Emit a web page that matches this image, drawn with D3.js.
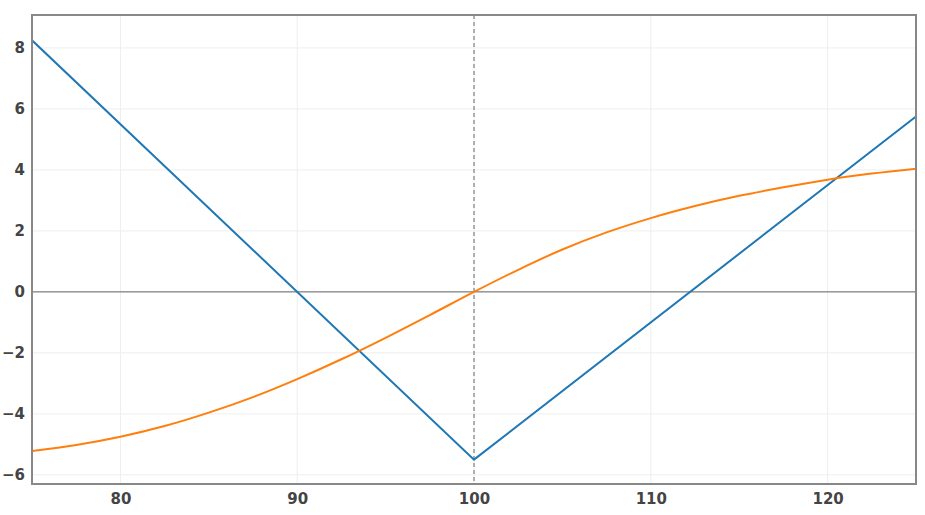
<!DOCTYPE html>
<html><head><meta charset="utf-8">
<script src="https://cdn.jsdelivr.net/npm/d3@7"></script>
<style>body{margin:0;background:#fff;} text{font-family:"DejaVu Sans",Verdana,sans-serif;font-weight:bold;}</style>
</head><body>
<svg id="c" width="925" height="515"></svg>
<script>
const blueX = [75, 100, 125];
const blueY = [8.25, -5.5, 5.75];
const orangeX = [75,77.5,80,82.5,85,87.5,90,92.5,95,97.5,100,102.5,105,107.5,110,112.5,115,117.5,120,122.5,125];
const orangeY = [-5.22,-5.02,-4.75,-4.40,-3.96,-3.45,-2.86,-2.21,-1.505,-0.76,0,0.725,1.39,1.95,2.42,2.815,3.15,3.43,3.68,3.88,4.04];
const xTicks = [80, 90, 100, 110, 120];
const yTicks = [-6, -4, -2, 0, 2, 4, 6, 8];
const strikeX = 100;

const svg = d3.select("#c");
const L = 32, R = 916, T = 15, B = 484;
const x = d3.scaleLinear().domain([75, 125]).range([L, R]);
const y = d3.scaleLinear().domain([-6.3, 9.08]).range([B, T]);

const g = svg.append("g");
g.selectAll(".gx").data(xTicks).join("line")
  .attr("x1", d => x(d)).attr("x2", d => x(d)).attr("y1", T).attr("y2", B)
  .attr("stroke", "#eee").attr("stroke-width", 1);
g.selectAll(".gy").data(yTicks).join("line")
  .attr("x1", L).attr("x2", R).attr("y1", d => y(d)).attr("y2", d => y(d))
  .attr("stroke", "#eee").attr("stroke-width", 1);
g.append("line").attr("x1", L).attr("x2", R).attr("y1", y(0)).attr("y2", y(0))
  .attr("stroke", "#666").attr("stroke-width", 1);
g.append("line").attr("x1", x(strikeX)).attr("x2", x(strikeX)).attr("y1", T).attr("y2", B)
  .attr("stroke", "#666").attr("stroke-width", 1).attr("stroke-dasharray", "4,3");

svg.append("clipPath").attr("id", "clp").append("rect")
  .attr("x", L).attr("y", T).attr("width", R - L).attr("height", B - T);

const line = d3.line().x(d => x(d[0])).y(d => y(d[1]));
svg.append("path").attr("clip-path", "url(#clp)")
  .datum(blueX.map((v, i) => [v, blueY[i]]))
  .attr("d", line).attr("fill", "none").attr("stroke", "#1f77b4").attr("stroke-width", 2);
svg.append("path").attr("clip-path", "url(#clp)")
  .datum(orangeX.map((v, i) => [v, orangeY[i]]))
  .attr("d", line.curve(d3.curveMonotoneX)).attr("fill", "none").attr("stroke", "#ff7f0e").attr("stroke-width", 2);

svg.append("rect").attr("x", L).attr("y", T).attr("width", R - L).attr("height", B - T)
  .attr("fill", "none").attr("stroke", "#888").attr("stroke-width", 2);

const xa = svg.append("g").attr("transform", `translate(0,${B})`)
  .call(d3.axisBottom(x).tickValues(xTicks).tickSize(0).tickPadding(9).tickFormat(d3.format("d")));
xa.select(".domain").remove();
const ya = svg.append("g").attr("transform", `translate(${L},0)`)
  .call(d3.axisLeft(y).tickValues(yTicks).tickSize(0).tickPadding(7).tickFormat(d => d < 0 ? "\u2212" + Math.abs(d) : d));
ya.select(".domain").remove();
svg.selectAll(".tick text").attr("font-size", 15).attr("fill", "#444")
  .attr("font-family", "'DejaVu Sans',Verdana,sans-serif").attr("font-weight", "bold");
</script>
</body></html>
